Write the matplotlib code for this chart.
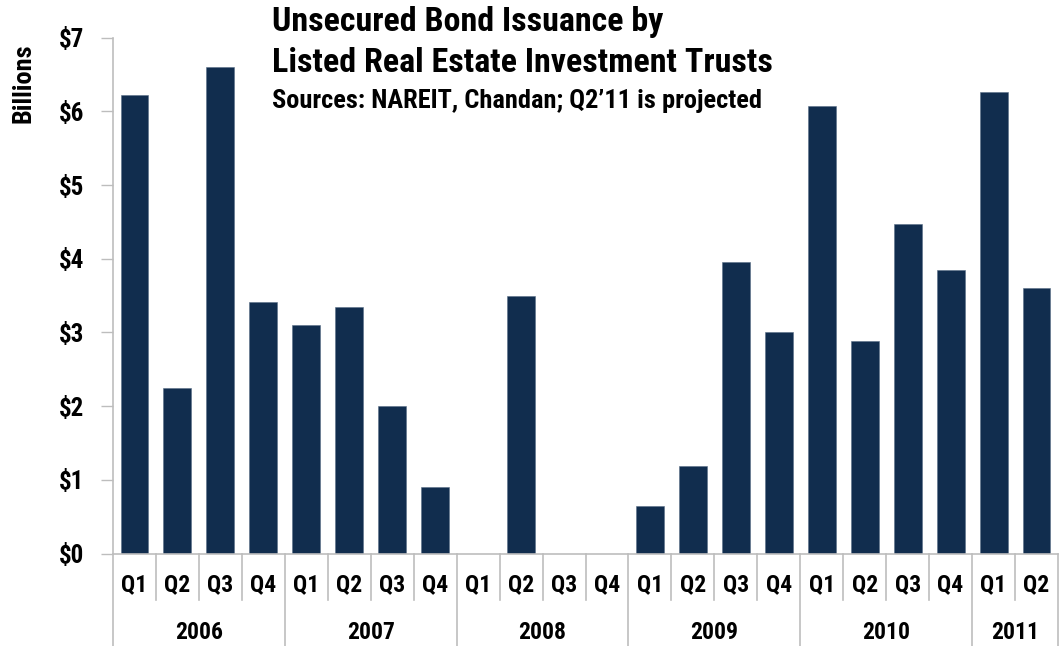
import matplotlib
matplotlib.use("Agg")
import matplotlib.pyplot as plt
from matplotlib import font_manager
from matplotlib.transforms import blended_transform_factory

# Quarterly unsecured bond issuance, $ billions
years = ["2006", "2007", "2008", "2009", "2010", "2011"]
quarters_per_year = [4, 4, 4, 4, 4, 2]
quarter_labels = ["Q1", "Q2", "Q3", "Q4"] * 5 + ["Q1", "Q2"]
issuance = [6.22, 2.25, 6.60, 3.42,
            3.10, 3.35, 2.00, 0.90,
            0.00, 3.50, 0.00, 0.00,
            0.65, 1.19, 3.96, 3.01,
            6.07, 2.88, 4.47, 3.85,
            6.27, 3.60]
ytick_values = [0, 1, 2, 3, 4, 5, 6, 7]
ytick_labels = ["$0", "$1", "$2", "$3", "$4", "$5", "$6", "$7"]

title_lines = ["Unsecured Bond Issuance by", "Listed Real Estate Investment Trusts"]
subtitle = "Sources: NAREIT, Chandan; Q2\u201911 is projected"

# Prefer a narrow grotesque for all text
installed = {f.name for f in font_manager.fontManager.ttflist}
preferred = ["Roboto Condensed", "Archivo Narrow", "PT Sans Narrow",
             "Asap Condensed", "Liberation Sans Narrow"]
FONT = [n for n in preferred if n in installed][:1] + ["DejaVu Sans"]
plt.rcParams["font.family"] = FONT
plt.rcParams["font.weight"] = "bold"

BAR = "#112d4e"
GRID = "#bdbdbd"

fig = plt.figure(figsize=(10.6, 6.46), dpi=100)
ax = fig.add_axes([113 / 1060, 1 - 553.5 / 646, (1058 - 113) / 1060, (553.5 - 37.8) / 646])

x = list(range(len(issuance)))
ax.bar(x, issuance, width=0.65, color=BAR, edgecolor="#5a6f86", linewidth=0.4)

ax.set_xlim(-0.5, len(issuance) - 0.5)
ax.set_ylim(0, 7)
ax.set_yticks(ytick_values)
ax.set_yticklabels(ytick_labels, fontsize=18, fontweight="bold")
ax.tick_params(axis="y", length=9, width=1, color=GRID, pad=12)
ax.set_xticks([])

for side in ("top", "right"):
    ax.spines[side].set_visible(False)
ax.spines["left"].set_color(GRID)
ax.spines["bottom"].set_color(GRID)
ax.spines["left"].set_linewidth(1.2)
ax.spines["bottom"].set_linewidth(1.2)

ax.text(-0.095, 0.912, "Billions", transform=ax.transAxes, rotation=90,
        ha="center", va="center", fontsize=19, fontweight="bold")

# Two-level category axis: quarters on top, years below
trans = blended_transform_factory(ax.transData, ax.transAxes)
q_line_bottom = -0.090
y_line_bottom = -0.185

for i, lab in enumerate(quarter_labels):
    ax.text(i, -0.061, lab, transform=trans, ha="center", va="center",
            fontsize=17, fontweight="bold")

year_starts = []
start = 0
for n in quarters_per_year:
    year_starts.append(start)
    start += n

for i in range(1, len(issuance)):
    if i in year_starts:
        continue
    ax.plot([i - 0.5, i - 0.5], [0, q_line_bottom], transform=trans,
            color=GRID, lw=1.2, clip_on=False)

for s, n, yr in zip(year_starts, quarters_per_year, years):
    ax.plot([s - 0.5, s - 0.5], [0, y_line_bottom], transform=trans,
            color=GRID, lw=1.2, clip_on=False)
    ax.text(s + (n - 1) / 2, -0.154, yr, transform=trans, ha="center",
            va="center", fontsize=17, fontweight="bold")
ax.plot([len(issuance) - 0.5] * 2, [0, y_line_bottom], transform=trans,
        color=GRID, lw=1.2, clip_on=False)

fig.text(272 / 1060, 1 - 22 / 646, title_lines[0], ha="left", va="center",
         fontsize=24.5, fontweight="bold")
fig.text(272 / 1060, 1 - 63 / 646, title_lines[1], ha="left", va="center",
         fontsize=24.5, fontweight="bold")
fig.text(272 / 1060, 1 - 101 / 646, subtitle, ha="left", va="center",
         fontsize=19, fontweight="bold")

fig.savefig("out.png", dpi=100)
